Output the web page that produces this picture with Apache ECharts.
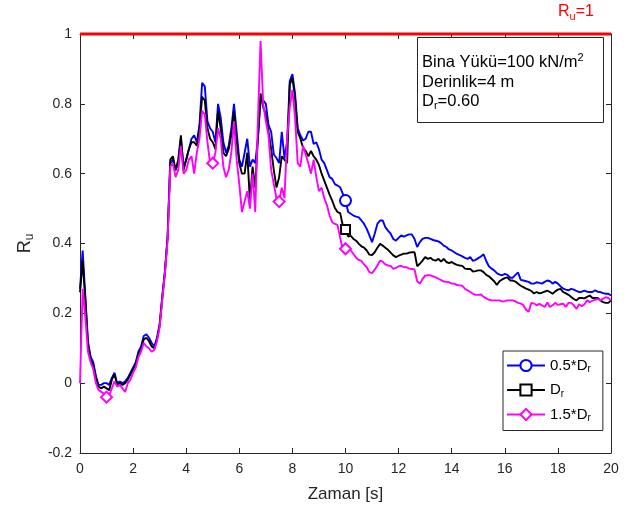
<!DOCTYPE html>
<html><head><meta charset="utf-8">
<script src="https://cdn.jsdelivr.net/npm/echarts@6/dist/echarts.min.js"></script>
<style>html,body{margin:0;padding:0;background:#fff}#c{width:643px;height:510px}</style>
</head><body><div id="c"></div>
<script>
// ---- data ----
const time = [0,0.1,0.2,0.3,0.4,0.5,0.6,0.7,0.8,0.9,
1,1.1,1.2,1.3,1.4,1.5,1.6,1.7,1.8,1.9,
2,2.1,2.2,2.3,2.4,2.5,2.6,2.7,2.8,2.9,
3,3.1,3.2,3.3,3.4,3.5,3.6,3.7,3.8,3.9,
4,4.1,4.2,4.3,4.4,4.5,4.6,4.7,4.8,4.9,
5,5.1,5.2,5.3,5.4,5.5,5.6,5.7,5.8,5.9,
6,6.1,6.2,6.3,6.4,6.5,6.6,6.7,6.8,6.9,
7,7.1,7.2,7.3,7.4,7.5,7.6,7.7,7.8,7.9,
8,8.1,8.2,8.3,8.4,8.5,8.6,8.7,8.8,8.9,
9,9.1,9.2,9.3,9.4,9.5,9.6,9.7,9.8,9.9,
10,10.1,10.2,10.3,10.4,10.5,10.6,10.7,10.8,10.9,
11,11.1,11.2,11.3,11.4,11.5,11.6,11.7,11.8,11.9,
12,12.1,12.2,12.3,12.4,12.5,12.6,12.7,12.8,12.9,
13,13.1,13.2,13.3,13.4,13.5,13.6,13.7,13.8,13.9,
14,14.1,14.2,14.3,14.4,14.5,14.6,14.7,14.8,14.9,
15,15.1,15.2,15.3,15.4,15.5,15.6,15.7,15.8,15.9,
16,16.1,16.2,16.3,16.4,16.5,16.6,16.7,16.8,16.9,
17,17.1,17.2,17.3,17.4,17.5,17.6,17.7,17.8,17.9,
18,18.1,18.2,18.3,18.4,18.5,18.6,18.7,18.8,18.9,
19,19.1,19.2,19.3,19.4,19.5,19.6,19.7,19.8,19.9,
20];

// 0.5*Dr (blue)
const ruHalfDr = [0.27,0.38,0.25,0.12,0.075,0.06,0.02,-0.005,-0.005,0.0,
0.0,-0.005,0.015,0.03,0.0,0.005,0.0,0.005,0.015,0.03,
0.045,0.06,0.09,0.105,0.135,0.14,0.13,0.115,0.105,0.13,
0.17,0.25,0.32,0.42,0.63,0.64,0.61,0.63,0.70,0.62,
0.64,0.67,0.70,0.71,0.69,0.74,0.86,0.85,0.75,0.73,
0.72,0.69,0.80,0.76,0.69,0.66,0.68,0.73,0.80,0.72,
0.64,0.62,0.66,0.70,0.62,0.64,0.63,0.70,0.81,0.81,
0.80,0.74,0.72,0.655,0.645,0.63,0.72,0.645,0.69,0.865,
0.885,0.83,0.73,0.71,0.695,0.70,0.72,0.72,0.685,0.69,
0.67,0.64,0.63,0.61,0.59,0.585,0.57,0.566,0.561,0.542,
0.523,0.49,0.485,0.48,0.477,0.475,0.466,0.456,0.442,0.423,
0.404,0.428,0.456,0.466,0.466,0.447,0.437,0.428,0.413,0.408,
0.416,0.423,0.42,0.423,0.426,0.426,0.413,0.39,0.404,0.413,
0.416,0.416,0.413,0.41,0.408,0.406,0.401,0.394,0.39,0.383,
0.38,0.375,0.37,0.367,0.363,0.359,0.356,0.361,0.35,0.353,
0.358,0.363,0.369,0.35,0.335,0.328,0.323,0.315,0.311,0.309,
0.313,0.31,0.302,0.302,0.31,0.317,0.296,0.294,0.292,0.29,
0.285,0.285,0.289,0.287,0.285,0.29,0.294,0.292,0.285,0.29,
0.285,0.277,0.271,0.268,0.266,0.27,0.268,0.264,0.261,0.262,
0.265,0.262,0.261,0.261,0.266,0.262,0.261,0.258,0.256,0.256,
0.251];

// Dr (black)
const ruDr = [0.26,0.35,0.24,0.11,0.07,0.05,0.015,-0.01,-0.015,-0.01,
-0.015,-0.02,0.01,0.025,-0.005,0.0,-0.005,0.0,0.01,0.025,
0.04,0.055,0.085,0.10,0.125,0.13,0.12,0.105,0.10,0.125,
0.165,0.245,0.32,0.42,0.64,0.65,0.61,0.64,0.71,0.61,
0.64,0.67,0.69,0.69,0.68,0.73,0.82,0.81,0.73,0.70,
0.69,0.67,0.78,0.73,0.66,0.65,0.67,0.71,0.78,0.69,
0.63,0.60,0.60,0.66,0.52,0.62,0.56,0.70,0.83,0.79,
0.77,0.72,0.67,0.61,0.56,0.59,0.65,0.64,0.63,0.855,
0.875,0.815,0.72,0.70,0.675,0.665,0.65,0.665,0.65,0.64,
0.625,0.60,0.58,0.56,0.54,0.523,0.502,0.49,0.487,0.451,
0.44,0.42,0.422,0.413,0.408,0.399,0.392,0.388,0.38,0.368,
0.367,0.375,0.388,0.399,0.394,0.388,0.382,0.374,0.366,0.361,
0.365,0.368,0.371,0.371,0.374,0.375,0.375,0.335,0.342,0.351,
0.361,0.356,0.359,0.353,0.351,0.356,0.348,0.356,0.347,0.344,
0.347,0.342,0.339,0.337,0.336,0.328,0.327,0.327,0.32,0.321,
0.323,0.323,0.318,0.31,0.306,0.299,0.292,0.281,0.292,0.297,
0.301,0.303,0.294,0.294,0.291,0.285,0.279,0.275,0.271,0.268,
0.264,0.257,0.261,0.257,0.259,0.262,0.265,0.261,0.256,0.263,
0.268,0.27,0.261,0.257,0.253,0.247,0.241,0.237,0.244,0.244,
0.243,0.247,0.251,0.244,0.244,0.244,0.237,0.232,0.23,0.23,
0.237];

// 1.5*Dr (magenta)
const ruOneHalfDr = [0.0,0.27,0.19,0.09,0.06,0.04,0.0,-0.02,-0.025,-0.03,
-0.04,-0.035,-0.015,0.005,-0.01,-0.005,-0.015,-0.025,0.0,0.01,
0.03,0.045,0.075,0.09,0.115,0.105,0.10,0.09,0.095,0.12,
0.16,0.24,0.315,0.41,0.62,0.63,0.59,0.61,0.68,0.60,
0.61,0.64,0.65,0.60,0.66,0.70,0.78,0.77,0.69,0.63,
0.63,0.66,0.73,0.70,0.62,0.59,0.61,0.66,0.75,0.64,
0.57,0.49,0.52,0.55,0.50,0.60,0.49,0.75,0.98,0.80,
0.75,0.71,0.61,0.57,0.53,0.52,0.56,0.53,0.70,0.79,
0.84,0.76,0.63,0.62,0.68,0.655,0.63,0.60,0.64,0.59,
0.55,0.56,0.53,0.51,0.48,0.461,0.456,0.453,0.416,0.382,
0.385,0.388,0.38,0.37,0.359,0.353,0.35,0.34,0.332,0.318,
0.315,0.325,0.337,0.351,0.348,0.34,0.337,0.336,0.327,0.33,
0.335,0.336,0.332,0.332,0.328,0.327,0.326,0.292,0.285,0.298,
0.308,0.309,0.309,0.306,0.303,0.299,0.295,0.291,0.29,0.289,
0.285,0.285,0.281,0.28,0.279,0.27,0.266,0.261,0.256,0.253,
0.253,0.254,0.247,0.243,0.239,0.237,0.237,0.237,0.237,0.234,
0.235,0.237,0.237,0.237,0.234,0.23,0.228,0.223,0.21,0.205,
0.23,0.228,0.223,0.227,0.223,0.218,0.231,0.218,0.223,0.23,
0.224,0.226,0.228,0.218,0.23,0.23,0.223,0.213,0.226,0.22,
0.226,0.237,0.232,0.236,0.239,0.241,0.237,0.242,0.246,0.244,
0.237];

const seriesNames = ['0.5*Dr', 'Dr', '1.5*Dr'];
const refLineX = [0, 20];
const refLineY = [1, 1];
// sample indices carrying a visible marker, per series
const markersHalfDr = [100];
const markersDr = [100];
const markersOneHalfDr = [10, 50, 75, 100];
const xTickLabels = ['0','2','4','6','8','10','12','14','16','18','20'];
const yTickLabels = ['-0.2','0','0.2','0.4','0.6','0.8','1'];

// ---- chart ----
const FONT = 'Liberation Sans, Arial, Helvetica, sans-serif';
const AX = '#262626';
const pairs = ys => time.map((t, i) => [t, ys[i]]);
const mSize = (list, s) => (v, p) => list.indexOf(p.dataIndex) >= 0 ? s : 0;

const legendRich = {
  a: {fontSize: 15, color: '#000', fontFamily: FONT, lineHeight: 18, verticalAlign: 'middle'},
  s: {fontSize: 10, color: '#000', fontFamily: FONT, lineHeight: 10, verticalAlign: 'bottom'}
};
const legendText = {'0.5*Dr': '{a|0.5*D}{s|r}', 'Dr': '{a|D}{s|r}', '1.5*Dr': '{a|1.5*D}{s|r}'};

function axisBase(extra) {
  return Object.assign({
    type: 'value',
    axisLine: {show: true, onZero: false, lineStyle: {color: AX, width: 1}},
    axisTick: {show: true, inside: true, length: 5, lineStyle: {color: AX}},
    splitLine: {show: false}
  }, extra);
}

const chart = echarts.init(document.getElementById('c'), null, {renderer: 'canvas'});
const colors = ['#0000ff', '#000000', '#ff00ff'];
const symbols = ['emptyCircle', 'emptyRect', 'emptyDiamond'];
const sizes = [11, 9, 11];
const dataSets = [ruHalfDr, ruDr, ruOneHalfDr];
const markerSets = [markersHalfDr, markersDr, markersOneHalfDr];

const series = dataSets.map((d, k) => ({
  name: seriesNames[k], type: 'line', data: pairs(d),
  symbol: symbols[k], symbolSize: mSize(markerSets[k], sizes[k]),
  showSymbol: true, showAllSymbol: true,
  color: colors[k],
  lineStyle: {color: colors[k], width: 1.9},
  itemStyle: {color: colors[k], borderWidth: 1.5},
  z: 2 + k, silent: true
}));
series.push({
  name: 'Ru=1', type: 'line', data: refLineX.map((x, i) => [x, refLineY[i]]),
  symbol: 'none', clip: false, lineStyle: {color: '#ff0000', width: 3}, z: 10, silent: true
});

chart.setOption({
  animation: false,
  backgroundColor: '#fff',
  textStyle: {fontFamily: FONT},
  grid: {left: 80, right: 32, top: 34, bottom: 57},
  xAxis: [
    axisBase({min: 0, max: 20, interval: 2, position: 'bottom',
      axisLabel: {color: AX, fontSize: 14, margin: 9, fontFamily: FONT,
        formatter: v => xTickLabels[Math.round(v / 2)]},
      name: 'Zaman [s]', nameLocation: 'middle', nameGap: 33,
      nameTextStyle: {color: AX, fontSize: 17, fontFamily: FONT}}),
    axisBase({min: 0, max: 20, interval: 2, position: 'top', axisLabel: {show: false}})
  ],
  yAxis: [
    axisBase({min: -0.2, max: 1, interval: 0.2, position: 'left',
      axisLabel: {color: AX, fontSize: 14, margin: 8, fontFamily: FONT,
        formatter: v => yTickLabels[Math.round((v + 0.2) / 0.2)]},
      name: '{r|R}{s|u}', nameLocation: 'middle', nameGap: 44, nameRotate: 90,
      nameTextStyle: {rich: {
        r: {fontSize: 18, color: AX, fontFamily: FONT, lineHeight: 22, verticalAlign: 'middle'},
        s: {fontSize: 12, color: AX, fontFamily: FONT, lineHeight: 12, verticalAlign: 'bottom'}}}}),
    axisBase({min: -0.2, max: 1, interval: 0.2, position: 'right', axisLabel: {show: false}})
  ],
  legend: {
    data: seriesNames, orient: 'vertical', left: 503, top: 351,
    itemWidth: 38, itemHeight: 14, itemGap: 8,
    padding: [7, 12, 7, 3],
    borderColor: AX, borderWidth: 1, backgroundColor: '#fff',
    formatter: n => legendText[n],
    textStyle: {rich: legendRich},
    selectedMode: false
  },
  graphic: [
    {type: 'text', x: 558, y: 12, z: 20, style: {
      text: '{r|R}{s|u}{r|=1}', verticalAlign: 'middle',
      rich: {r: {fill: '#ff0000', fontSize: 16, fontFamily: FONT, lineHeight: 20, verticalAlign: 'middle'},
             s: {fill: '#ff0000', fontSize: 11, fontFamily: FONT, lineHeight: 11, verticalAlign: 'bottom'}}}},
    {type: 'rect', z: 20, shape: {x: 417.5, y: 37.5, width: 186, height: 85},
      style: {fill: '#fff', stroke: AX, lineWidth: 1}},
    {type: 'text', x: 422, y: 62, z: 21, style: {
      text: '{a|Bina Yükü=100 kN/m}{p|2}', verticalAlign: 'middle',
      rich: {a: {fill: '#000', fontSize: 16.5, fontFamily: FONT, lineHeight: 20, verticalAlign: 'middle'},
             p: {fill: '#000', fontSize: 11, fontFamily: FONT, lineHeight: 11, verticalAlign: 'top'}}}},
    {type: 'text', x: 422, y: 82, z: 21, style: {
      text: 'Derinlik=4 m', verticalAlign: 'middle', fill: '#000', fontSize: 16.5, fontFamily: FONT}},
    {type: 'text', x: 422, y: 101, z: 21, style: {
      text: '{a|D}{s|r}{a|=0.60}', verticalAlign: 'middle',
      rich: {a: {fill: '#000', fontSize: 16.5, fontFamily: FONT, lineHeight: 20, verticalAlign: 'middle'},
             s: {fill: '#000', fontSize: 11, fontFamily: FONT, lineHeight: 11, verticalAlign: 'bottom'}}}}
  ],
  series: series
});
</script>
</body></html>
